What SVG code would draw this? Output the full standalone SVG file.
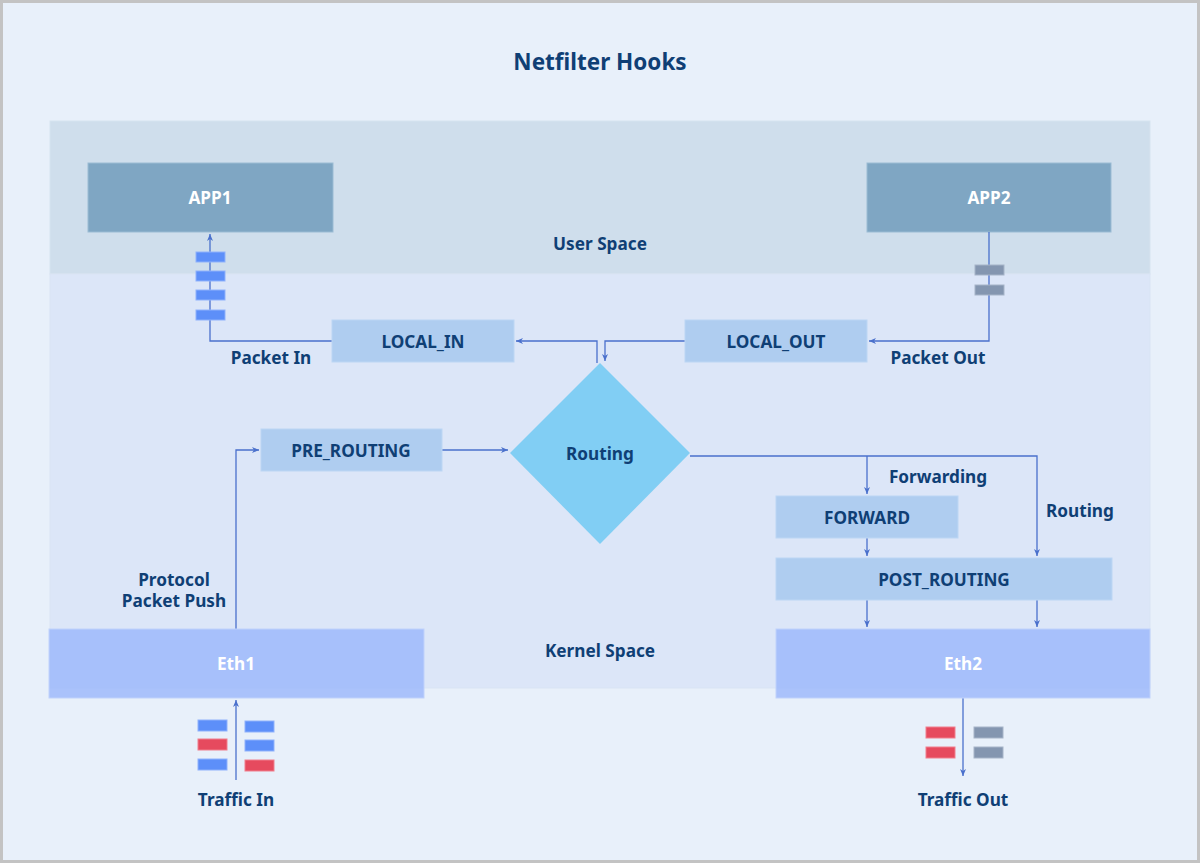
<svg xmlns="http://www.w3.org/2000/svg" width="1200" height="863" viewBox="0 0 1200 863">
<defs>
<marker id="arr" markerWidth="8" markerHeight="8" refX="7" refY="4" orient="auto" markerUnits="userSpaceOnUse">
<path d="M0,1 L7,4 L0,7 L2,4 Z" fill="#4a70cc"/>
</marker>
<style>
text{font-family:"Noto Sans","Open Sans","Liberation Sans",sans-serif;font-weight:bold;fill:#0f3f75;text-anchor:middle;dominant-baseline:central}
.t{font-size:17.2px}
.w{fill:#ffffff}
.hook{fill:#afcdf0;stroke:#bcd6f4;stroke-width:1}
.app{fill:#7fa6c3;stroke:#9bbbd3;stroke-width:1}
.eth{fill:#9ab7fb;fill-opacity:0.8;stroke:#c0d2fb;stroke-width:1}
.c{fill:none;stroke:#4a70cc;stroke-width:1.3}
.pb{fill:#5d8ff9;stroke:#8fb1fb;stroke-width:1}
.pr{fill:#e64a5e;stroke:#f07f8d;stroke-width:1}
.pg{fill:#8496b0;stroke:#a6b4c8;stroke-width:1}
</style>
</defs>
<rect x="0" y="0" width="1200" height="863" fill="#c3c3c3"/>
<rect x="3" y="3" width="1194" height="857" fill="#e8f0fa"/>
<text x="600" y="61" style="font-size:22.5px">Netfilter Hooks</text>
<g id="user-space">
<rect x="50" y="121" width="1100" height="153" fill="#cfdeec" stroke="#d6e3ef" stroke-width="1"/>
<text class="t" x="600" y="243">User Space</text>
</g>
<g id="kernel-space">
<rect x="50" y="274" width="1100" height="414" fill="#dce6f8" stroke="#d9e4f4" stroke-width="1"/>
<text class="t" x="600" y="650">Kernel Space</text>
</g>
<g id="app1"><rect class="app" x="88" y="163" width="245" height="69"/><text class="t w" x="210" y="197">APP1</text></g>
<g id="app2"><rect class="app" x="867" y="163" width="244" height="69"/><text class="t w" x="989" y="197">APP2</text></g>
<g id="connectors">
<path class="c" d="M332,341 H210 V234" marker-end="url(#arr)"/>
<path class="c" d="M597,363 V341 H516" marker-end="url(#arr)"/>
<path class="c" d="M685,341 H605 V361" marker-end="url(#arr)"/>
<path class="c" d="M989,232 V341 H869" marker-end="url(#arr)"/>
<path class="c" d="M236,629 V450 H259" marker-end="url(#arr)"/>
<path class="c" d="M442,450 H508" marker-end="url(#arr)"/>
<path class="c" d="M690,456 H1037 V556" marker-end="url(#arr)"/>
<path class="c" d="M867,456 V494" marker-end="url(#arr)"/>
<path class="c" d="M867,538 V556" marker-end="url(#arr)"/>
<path class="c" d="M867,600 V627" marker-end="url(#arr)"/>
<path class="c" d="M1037,600 V627" marker-end="url(#arr)"/>
<path class="c" d="M236,780 V700" marker-end="url(#arr)"/>
<path class="c" d="M963,698 V776" marker-end="url(#arr)"/>
</g>
<g id="packets-in-app1">
<rect class="pb" x="196" y="252" width="29" height="10"/>
<rect class="pb" x="196" y="271" width="29" height="10"/>
<rect class="pb" x="196" y="290" width="29" height="10"/>
<rect class="pb" x="196" y="310" width="29" height="10"/>
</g>
<g id="packets-out-app2">
<rect class="pg" x="975" y="265" width="29" height="10"/>
<rect class="pg" x="975" y="285" width="29" height="10"/>
</g>
<g id="local-in"><rect class="hook" x="332" y="320" width="182" height="42"/><text class="t" x="423" y="341">LOCAL_IN</text></g>
<g id="local-out"><rect class="hook" x="685" y="320" width="182" height="42"/><text class="t" x="776" y="341">LOCAL_OUT</text></g>
<g id="pre-routing"><rect class="hook" x="261" y="429" width="181" height="42"/><text class="t" x="351" y="450">PRE_ROUTING</text></g>
<g id="routing"><path d="M600,363 L690,453 L600,544 L510,453 Z" fill="#81cef4"/><text class="t" x="600" y="453">Routing</text></g>
<g id="forward"><rect class="hook" x="776" y="496" width="182" height="42"/><text class="t" x="867" y="517">FORWARD</text></g>
<g id="post-routing"><rect class="hook" x="776" y="558" width="336" height="42"/><text class="t" x="944" y="579">POST_ROUTING</text></g>
<g id="eth1"><rect class="eth" x="49" y="629" width="375" height="69"/><text class="t w" x="236" y="663">Eth1</text></g>
<g id="eth2"><rect class="eth" x="776" y="629" width="374" height="69"/><text class="t w" x="963" y="663">Eth2</text></g>
<g id="traffic-in">
<rect class="pb" x="198" y="720" width="29" height="11"/>
<rect class="pr" x="198" y="739" width="29" height="11"/>
<rect class="pb" x="198" y="759" width="29" height="11"/>
<rect class="pb" x="245" y="721" width="29" height="11"/>
<rect class="pb" x="245" y="740" width="29" height="11"/>
<rect class="pr" x="245" y="760" width="29" height="11"/>
</g>
<g id="traffic-out">
<rect class="pr" x="926" y="727" width="29" height="11"/>
<rect class="pr" x="926" y="747" width="29" height="11"/>
<rect class="pg" x="974" y="727" width="29" height="11"/>
<rect class="pg" x="974" y="747" width="29" height="11"/>
</g>
<g id="labels">
<text class="t" x="271" y="357">Packet In</text>
<text class="t" x="938" y="357">Packet Out</text>
<text class="t" x="174" y="579">Protocol</text>
<text class="t" x="174" y="600">Packet Push</text>
<text class="t" x="938" y="476">Forwarding</text>
<text class="t" x="1080" y="510">Routing</text>
<text class="t" x="236" y="799">Traffic In</text>
<text class="t" x="963" y="799">Traffic Out</text>
</g>
</svg>
